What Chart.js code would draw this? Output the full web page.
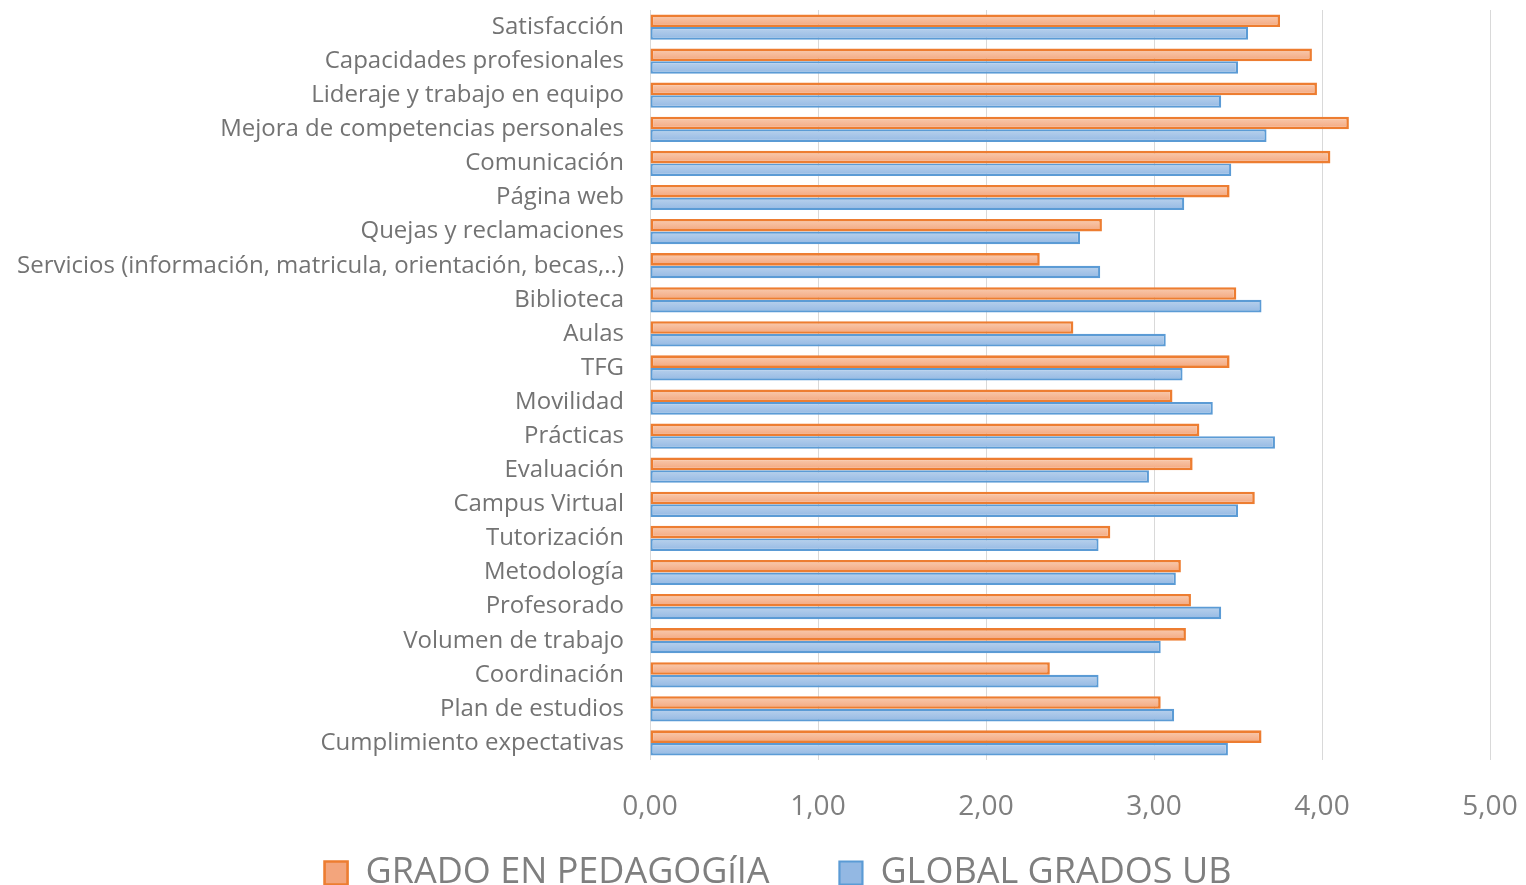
<!DOCTYPE html>
<html>
<head>
<meta charset="utf-8">
<script src="https://cdn.jsdelivr.net/npm/chart.js@4"></script>
<style>
  html, body { margin: 0; padding: 0; background: #fff; }
  #wrap { width: 1526px; height: 885px; }
</style>
</head>
<body>
<div id="wrap"><canvas id="valoracionChart"></canvas></div>
<script>
// Valoración media por ámbito (escala 0-5)
const categorias = [
    'Satisfacción',
    'Capacidades profesionales',
    'Lideraje y trabajo en equipo',
    'Mejora de competencias personales',
    'Comunicación',
    'Página web',
    'Quejas y reclamaciones',
    'Servicios (información, matricula, orientación, becas,..)',
    'Biblioteca',
    'Aulas',
    'TFG',
    'Movilidad',
    'Prácticas',
    'Evaluación',
    'Campus Virtual',
    'Tutorización',
    'Metodología',
    'Profesorado',
    'Volumen de trabajo',
    'Coordinación',
    'Plan de estudios',
    'Cumplimiento expectativas'
];
const pedagogia = [3.75, 3.94, 3.97, 4.16, 4.05, 3.45, 2.69, 2.32, 3.49, 2.52, 3.45,
    3.11, 3.27, 3.23, 3.60, 2.74, 3.16, 3.22, 3.19, 2.38, 3.04, 3.64];
const globalUB = [3.56, 3.50, 3.40, 3.67, 3.46, 3.18, 2.56, 2.68, 3.64, 3.07, 3.17,
    3.35, 3.72, 2.97, 3.50, 2.67, 3.13, 3.40, 3.04, 2.67, 3.12, 3.44];
const ticksX = [0, 1, 2, 3, 4, 5];

const CAT_PCT = 0.74;

// degradado vertical dentro de cada barra
function barGradient(top, bottom, datasetIndex) {
    return function (ctx) {
        const chart = ctx.chart;
        const y = chart.scales.y;
        if (!chart.chartArea || !y || ctx.dataIndex === undefined) return bottom;
        const step = (chart.chartArea.bottom - chart.chartArea.top) / categorias.length;
        const h = step * CAT_PCT / 2;
        const c = y.getPixelForValue(ctx.dataIndex);
        const y0 = datasetIndex === 0 ? c - h : c;
        const g = chart.ctx.createLinearGradient(0, y0, 0, y0 + h);
        g.addColorStop(0, top);
        g.addColorStop(1, bottom);
        return g;
    };
}

// la leyenda ocupa poco alto; el padding grande solo separa los elementos
const legendLayout = {
    id: 'legendLayout',
    afterInit(chart) {
        const legend = chart.legend;
        const fit = legend.fit;
        legend.fit = function () {
            fit.call(this);
            this.height = 55;
        };
    },
    afterLayout(chart) {
        // subir el origen de la leyenda; el borde inferior sigue en el del lienzo
        const legend = chart.legend;
        legend.top -= 45;
        legend.left += 33;
        legend.right += 33;
    }
};

const fontFamily = '"Open Sans", "DejaVu Sans", sans-serif';

new Chart(document.getElementById('valoracionChart'), {
    type: 'bar',
    data: {
        labels: categorias,
        datasets: [
            {
                label: 'GRADO EN PEDAGOGíIA',
                data: pedagogia,
                backgroundColor: barGradient('#f9cdb2', '#f3a57c', 0),
                borderColor: '#ed7d31',
                borderWidth: 2.6,
                borderSkipped: false
            },
            {
                label: 'GLOBAL GRADOS UB',
                data: globalUB,
                backgroundColor: barGradient('#bad2ed', '#93b8e3', 1),
                borderColor: '#5b9bd5',
                borderWidth: 2.2,
                borderSkipped: false
            }
        ]
    },
    options: {
        indexAxis: 'y',
        responsive: true,
        maintainAspectRatio: false,
        animation: false,
        layout: { padding: { top: 10, right: 36, left: 0, bottom: 0 } },
        datasets: {
            bar: { categoryPercentage: CAT_PCT, barPercentage: 1 }
        },
        scales: {
            x: {
                min: 0,
                max: 5,
                afterBuildTicks: (scale) => {
                    scale.ticks = ticksX.map(v => ({ value: v }));
                },
                afterFit: (scale) => {
                    scale.height = 70;
                    scale.paddingLeft = 0;
                    scale.paddingRight = 0;
                },
                grid: { color: '#d9d9d9', lineWidth: 1, drawTicks: false },
                border: { display: false },
                ticks: {
                    padding: 30,
                    maxRotation: 0,
                    color: '#7f7f7f',
                    font: { family: fontFamily, size: 28 },
                    callback: (v) => Number(v).toFixed(2).replace('.', ',')
                }
            },
            y: {
                afterFit: (scale) => {
                    scale.width = 650;
                    scale.paddingTop = 0;
                    scale.paddingBottom = 0;
                },
                grid: { display: false, drawTicks: false },
                border: { display: false },
                ticks: {
                    padding: 26,
                    color: '#737373',
                    autoSkip: false,
                    font: { family: fontFamily, size: 24 }
                }
            }
        },
        plugins: {
            legend: {
                position: 'bottom',
                labels: {
                    color: '#7f7f7f',
                    boxWidth: 23,
                    boxHeight: 23,
                    padding: 70,
                    font: { family: fontFamily, size: 36 }
                }
            },
            tooltip: { enabled: false }
        }
    },
    plugins: [legendLayout]
});
</script>
</body>
</html>
